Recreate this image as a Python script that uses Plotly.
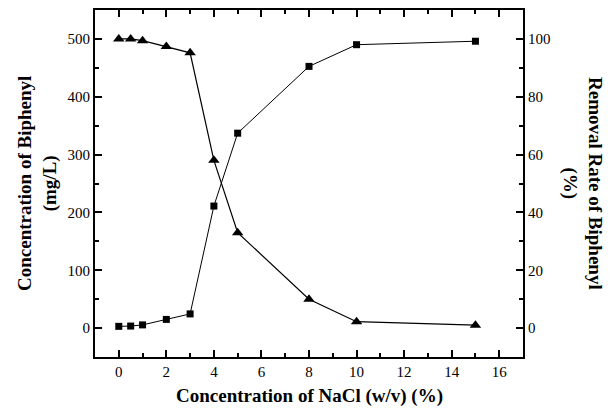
import plotly.graph_objects as go

nacl = [0, 0.5, 1, 2, 3, 4, 5, 8, 10, 15]
biphenyl_conc = [500, 500, 497, 487, 476, 290, 165, 50, 11, 5]
removal_rate = [0.6, 0.7, 1.1, 3.0, 4.9, 42.2, 67.4, 90.5, 98.0, 99.2]

font_family = "Liberation Serif"

fig = go.Figure()
fig.add_trace(go.Scatter(
    x=nacl, y=biphenyl_conc, mode="lines+markers",
    line=dict(color="black", width=1.2),
    marker=dict(symbol="triangle-up", size=10, color="black"),
    yaxis="y", showlegend=False))
fig.add_trace(go.Scatter(
    x=nacl, y=removal_rate, mode="lines+markers",
    line=dict(color="black", width=1),
    marker=dict(symbol="square", size=7, color="black"),
    yaxis="y2", showlegend=False))

tickfont = dict(family=font_family, size=15, color="black")

fig.update_layout(
    width=610, height=408,
    margin=dict(l=95, r=87, t=8, b=51),
    plot_bgcolor="white", paper_bgcolor="white",
    font=dict(family=font_family, color="black"),
    xaxis=dict(range=[-1, 17], tickvals=[0, 2, 4, 6, 8, 10, 12, 14, 16],
               ticks="inside", ticklen=7, tickwidth=1.5, tickcolor="black",
               minor=dict(tickvals=[1, 3, 5, 7, 9, 11, 13, 15], ticks="inside",
                          ticklen=4, tickwidth=1.5, tickcolor="black"),
               showline=True, linecolor="black", linewidth=2, mirror="ticks",
               showgrid=False, zeroline=False, tickfont=tickfont),
    yaxis=dict(range=[-50, 550], tickvals=[0, 100, 200, 300, 400, 500],
               ticks="inside", ticklen=7, tickwidth=1.5, tickcolor="black",
               minor=dict(tickvals=[50, 150, 250, 350, 450], ticks="inside",
                          ticklen=4, tickwidth=1.5, tickcolor="black"),
               showline=True, linecolor="black", linewidth=2, mirror=False,
               showgrid=False, zeroline=False, tickfont=tickfont),
    yaxis2=dict(range=[-10, 110], tickvals=[0, 20, 40, 60, 80, 100],
                overlaying="y", side="right",
                ticks="inside", ticklen=7, tickwidth=1.5, tickcolor="black",
                minor=dict(tickvals=[10, 30, 50, 70, 90], ticks="inside",
                           ticklen=4, tickwidth=1.5, tickcolor="black"),
                showline=True, linecolor="black", linewidth=2,
                showgrid=False, zeroline=False, tickfont=tickfont),
)

title_font = dict(family=font_family, size=19, color="black")
fig.add_annotation(text="<b>Concentration of NaCl (w/v) (%)</b>", xref="paper", yref="paper",
                   x=0.5, y=0, yshift=-26, yanchor="top", showarrow=False, font=title_font)
fig.add_annotation(text="<b>Concentration of Biphenyl</b><br><b>(mg/L)</b>", xref="paper", yref="paper",
                   x=0, xshift=-32, xanchor="right", y=0.5, textangle=-90, showarrow=False,
                   font=title_font)
fig.add_annotation(text="<b>Removal Rate of Biphenyl</b><br><b>(%)</b>", xref="paper", yref="paper",
                   x=1, xshift=34, xanchor="left", y=0.5, textangle=90, showarrow=False,
                   font=title_font)

fig.write_html("out.html")
